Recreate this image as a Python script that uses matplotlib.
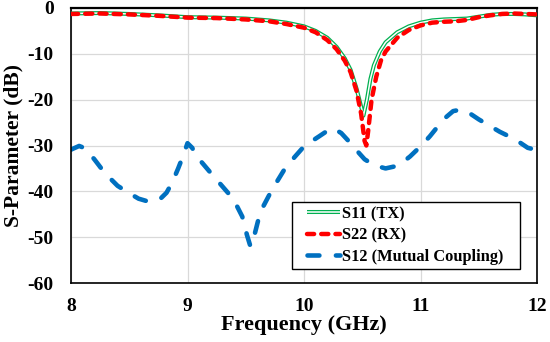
import matplotlib
matplotlib.use("Agg")
import matplotlib.pyplot as plt
from matplotlib.lines import Line2D
from matplotlib.legend_handler import HandlerLine2D

freq_s11 = [8.0, 8.25, 8.5, 8.75, 9.0, 9.25, 9.5, 9.7, 9.85, 10.0, 10.1, 10.2, 10.28, 10.35, 10.4,
            10.45, 10.48, 10.51, 10.54, 10.57, 10.6, 10.65, 10.7, 10.8, 10.9, 11.0, 11.1, 11.2,
            11.3, 11.4, 11.5, 11.6, 11.7, 11.8, 11.9, 12.0]
s11 = [-1.2, -1.1, -1.3, -1.6, -2.0, -2.1, -2.3, -2.7, -3.2, -4.0, -5.0, -6.5, -8.5, -11.0, -13.5,
       -17.5, -20.5, -23.5, -20.0, -15.5, -12.5, -9.5, -7.5, -5.3, -4.0, -3.2, -2.7, -2.5,
       -2.4, -2.3, -1.9, -1.5, -1.3, -1.3, -1.4, -1.6]

freq_s22 = [8.0, 8.25, 8.5, 8.75, 9.0, 9.25, 9.5, 9.7, 9.85, 10.0, 10.1, 10.2, 10.28, 10.35, 10.4,
            10.45, 10.49, 10.52, 10.535, 10.55, 10.58, 10.62, 10.66, 10.7, 10.8, 10.9, 11.0, 11.1,
            11.2, 11.3, 11.4, 11.5, 11.6, 11.7, 11.8, 11.9, 12.0]
s22 = [-1.3, -1.2, -1.4, -1.7, -2.1, -2.2, -2.5, -2.9, -3.5, -4.3, -5.3, -7.0, -9.0, -11.5, -14.0,
       -18.0, -23.0, -29.0, -30.0, -27.0, -20.0, -15.0, -11.5, -9.5, -6.5, -4.8, -3.8, -3.2,
       -3.0, -2.9, -2.6, -2.0, -1.6, -1.3, -1.2, -1.3, -1.4]

freq_s12 = [8.0, 8.07, 8.12, 8.2, 8.29, 8.4, 8.5, 8.58, 8.66, 8.76, 8.82, 8.87, 8.92, 8.96, 9.0,
            9.04, 9.08, 9.2, 9.35, 9.42, 9.47, 9.51, 9.54, 9.56, 9.58, 9.61, 9.65, 9.71, 9.77,
            9.83, 9.92, 10.0, 10.07, 10.13, 10.2, 10.25, 10.32, 10.4, 10.46, 10.52, 10.6, 10.7,
            10.79, 10.85, 10.91, 11.0, 11.08, 11.15, 11.22, 11.28, 11.34, 11.4, 11.5, 11.6,
            11.68, 11.76, 11.85, 11.92, 12.0]
s12 = [-30.9, -30.1, -30.6, -33.0, -36.0, -38.8, -40.4, -41.6, -42.2, -41.8, -40.3, -38.0, -35.0,
       -32.4, -29.5, -30.5, -32.4, -36.0, -40.4, -43.0, -45.5, -49.5, -52.0, -51.5, -49.0,
       -46.0, -43.3, -40.4, -37.8, -35.3, -32.5, -30.2, -29.0, -28.0, -26.8, -26.2, -27.3,
       -29.5, -31.3, -33.0, -34.3, -35.0, -34.5, -33.6, -32.4, -30.2, -28.0, -25.8, -23.8,
       -22.5, -22.2, -22.6, -24.3, -25.8, -27.0, -28.0, -29.3, -30.5, -31.0]

xticks = [8, 9, 10, 11, 12]
yticks = [0, -10, -20, -30, -40, -50, -60]

plt.rcParams['font.family'] = ['Liberation Serif', 'DejaVu Serif']
plt.rcParams['font.weight'] = 'bold'


class ShiftedLineHandler(HandlerLine2D):
    """Draw the legend line only in the right part of the handle box."""
    def __init__(self, frac=0.25, **kw):
        super().__init__(**kw)
        self.frac = frac

    def create_artists(self, legend, orig_handle, xdescent, ydescent, width, height,
                       fontsize, trans):
        shift = width * self.frac
        return super().create_artists(legend, orig_handle, xdescent - shift, ydescent,
                                      width - shift, height, fontsize, trans)


W, H = 550, 342
AX_L, AX_R, AX_T, AX_B = 71, 537, 8, 283
fig = plt.figure(figsize=(W / 100, H / 100), dpi=100)
ax = fig.add_axes([AX_L / W, 1 - AX_B / H, (AX_R - AX_L) / W, (AX_B - AX_T) / H])

green = '#00B050'
g1, = ax.plot(freq_s11, s11, color=green, lw=2.9, solid_capstyle='butt', zorder=3)
g2, = ax.plot(freq_s11, s11, color='white', lw=1.1, solid_capstyle='butt', zorder=4)
r, = ax.plot(freq_s22, s22, color='#FF0000', lw=3.2, dashes=(1.6, 1.6),
             dash_capstyle='round', zorder=5)
b, = ax.plot(freq_s12, s12, color='#0070C0', lw=3.3, dashes=(2.6, 3.6),
             dash_capstyle='round', zorder=2)

ax.set_xlim(8, 12)
ax.set_ylim(-60, 0)
ax.set_xticks(xticks)
ax.set_yticks(yticks)
ax.set_xticklabels([str(v) for v in xticks], fontsize=14, fontweight='bold')
ax.set_yticklabels([str(v) for v in yticks], fontsize=14, fontweight='bold')
ax.tick_params(axis='x', length=0, pad=11)
ax.tick_params(axis='y', length=0, pad=12.5)
ax.grid(True, color='#D9D9D9', lw=0.9)
ax.set_axisbelow(True)
for s in ax.spines.values():
    s.set_color('black')
    s.set_linewidth(1.2)
ax.spines['top'].set_linewidth(1.6)

ax.set_xlabel('Frequency (GHz)', fontsize=16, fontweight='bold', labelpad=0)
ax.set_ylabel('S-Parameter (dB)', fontsize=15.5, fontweight='bold', labelpad=3)

# legend box: x 292..520, y 199..269 px
bx0 = (292 - AX_L) / (AX_R - AX_L)
by0 = (AX_B - 269) / (AX_B - AX_T)
bw = (520 - 292) / (AX_R - AX_L)
bh = (269 - 199) / (AX_B - AX_T)
leg = ax.legend([(g1, g2), r, b], ['S11 (TX)', 'S22 (RX)', 'S12 (Mutual Coupling)'],
                loc='lower left', bbox_to_anchor=(bx0, by0, bw, bh), mode='expand',
                fontsize=11.8, frameon=True, fancybox=False, edgecolor='black',
                framealpha=1, handlelength=2.68, handletextpad=0.12, borderpad=0.25,
                labelspacing=0.33, borderaxespad=0,
                handler_map={Line2D: ShiftedLineHandler(frac=0.25)})
leg.get_frame().set_linewidth(1.0)
for t in leg.get_texts():
    t.set_fontweight('bold')

fig.savefig('out.png', dpi=100)
